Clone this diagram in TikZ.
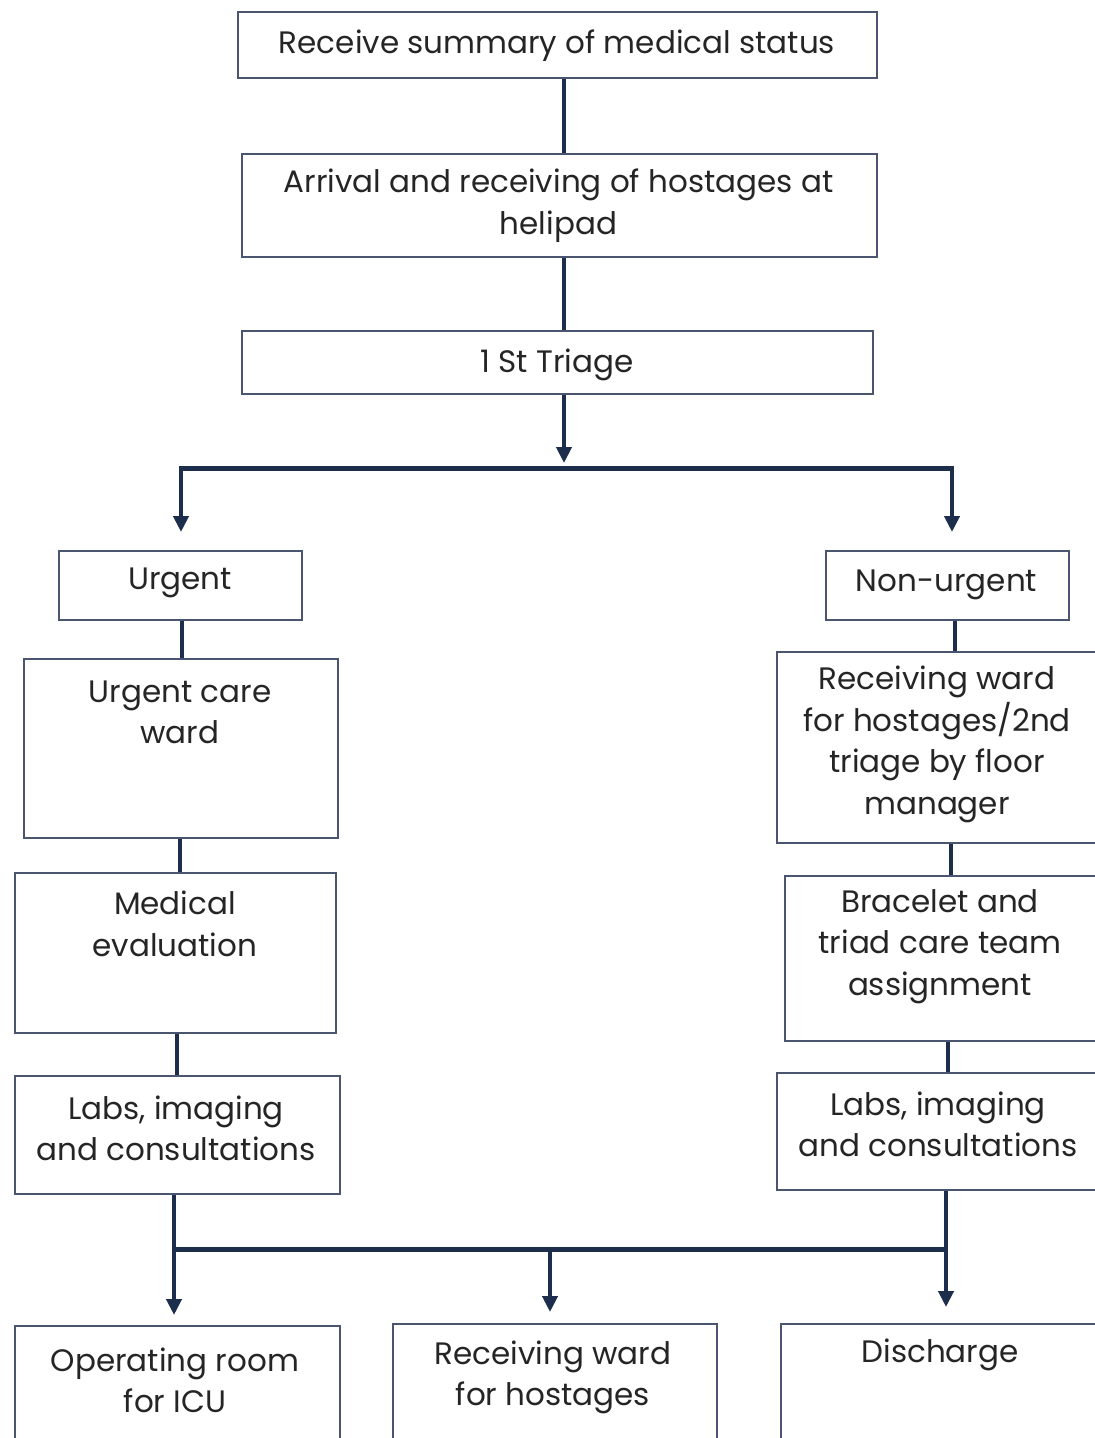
\documentclass[tikz,border=0pt]{standalone}
\usepackage{fontspec}
\setmainfont{Poppins}
\usetikzlibrary{arrows.meta}
\definecolor{linec}{HTML}{1C2E4C}
\definecolor{boxc}{HTML}{4A5670}
\definecolor{txtc}{HTML}{252525}
\tikzset{
  box/.style={draw=boxc, line width=1.8pt, fill=white, inner sep=0pt, anchor=north west},
  txt/.style={text=txtc, align=center, inner sep=0pt, yshift=-2.5pt, font=\fontsize{31}{41.5}\selectfont},
  conn/.style={draw=linec, line width=4pt},
  bar/.style={draw=linec, line width=5pt},
  arr/.style={draw=linec, line width=4pt, -{Triangle[length=16pt,width=15pt]}},
}
\begin{document}
\begin{tikzpicture}[x=1pt,y=-1pt]
\useasboundingbox (0,0) rectangle (1095,1438);
\clip (0,0) rectangle (1095,1438);
\fill[white] (0,0) rectangle (1095,1438);

% boxes
\node[box, minimum width=639pt, minimum height=66pt]  (b1) at (237,11) {};
\node[box, minimum width=635pt, minimum height=103pt] (b2) at (241,153) {};
\node[box, minimum width=631pt, minimum height=63pt]  (b3) at (241,330) {};
\node[box, minimum width=243pt, minimum height=69pt]  (urg) at (58,550) {};
\node[box, minimum width=243pt, minimum height=69pt]  (nurg) at (825,550) {};
\node[box, minimum width=314pt, minimum height=179pt] (care) at (23,658) {};
\node[box, minimum width=330pt, minimum height=191pt] (rw) at (776,651) {};
\node[box, minimum width=321pt, minimum height=160pt] (med) at (14,872) {};
\node[box, minimum width=322pt, minimum height=165pt] (brac) at (784,875) {};
\node[box, minimum width=325pt, minimum height=118pt] (labsL) at (14,1075) {};
\node[box, minimum width=330pt, minimum height=117pt] (labsR) at (776,1072) {};
\node[box, minimum width=325pt, minimum height=130pt] (opr) at (14,1325) {};
\node[box, minimum width=324pt, minimum height=130pt] (recv) at (392,1323) {};
\node[box, minimum width=326pt, minimum height=130pt] (disc) at (780,1323) {};

% texts
\node[txt] (t1) at (557,43) {Receive summary of medical status};
\node[txt] (t2) at (558.5,203) {Arrival and receiving of hostages at\\helipad};
\node[txt] (t3) at (557,362) {1 St Triage};
\node[txt] (t4) at (180,580) {Urgent};
\node[txt] (t5) at (946.5,582) {Non-urgent};
\node[txt] (t6) at (180,710) {Urgent care\\ward};
\node[txt] (t7) at (937,742) {Receiving ward\\for hostages/2nd\\triage by floor\\manager};
\node[txt] (t8) at (175,921.5) {Medical\\evaluation};
\node[txt] (t9) at (940,944) {Bracelet and\\triad care team\\assignment};
\node[txt] (t10) at (176,1126) {Labs, imaging\\and consultations};
\node[txt] (t11) at (938,1122) {Labs, imaging\\and consultations};
\node[txt] (t12) at (175,1378) {Operating room\\for ICU};
\node[txt] (t13) at (553,1375) {Receiving ward\\for hostages};
\node[txt] (t14) at (940,1352) {Discharge};

% junction coordinates
\coordinate (c1) at (564,0);
\coordinate (j1tip) at (564,463);
\coordinate (jl) at (181,468);
\coordinate (jr) at (952,468);
\coordinate (bl) at (174,1249);
\coordinate (bm) at (550,1249);
\coordinate (br) at (946,1249);

% top chain
\draw[conn] (b1.south -| c1) -- (b2.north -| c1);
\draw[conn] (b2.south -| c1) -- (b3.north -| c1);
\draw[arr] (b3.south -| c1) -- (j1tip);
\draw[bar] ([xshift=-2pt]jl) -- ([xshift=2pt]jr);
\draw[arr] (jl) -- ([yshift=18pt]urg.north -| jl);
\draw[arr] (jr) -- ([yshift=18pt]nurg.north -| jr);

% left chain
\draw[conn] ([xshift=1.5pt]urg.south) -- ([xshift=1.5pt]urg.south |- care.north);
\draw[conn] ([xshift=-1pt]care.south) -- ([xshift=-1pt]care.south |- med.north);
\draw[conn] ([xshift=1.5pt]med.south) -- ([xshift=1.5pt]med.south |- labsL.north);

% right chain
\draw[conn] ([xshift=7.5pt]nurg.south) -- ([xshift=7.5pt]nurg.south |- rw.north);
\draw[conn] (rw.south -| 951,0) -- (brac.north -| 951,0);
\draw[conn] (brac.south -| 948,0) -- (labsR.north -| 948,0);

% bottom
\draw[conn] (labsL.south -| bl) -- (bl);
\draw[conn] (labsR.south -| br) -- (br);
\draw[bar] ([xshift=-2pt]bl) -- ([xshift=2pt]br);
\draw[arr] (bl) -- ([yshift=10pt]opr.north -| bl);
\draw[arr] (bm) -- ([yshift=11pt]recv.north -| bm);
\draw[arr] (br) -- ([yshift=16pt]disc.north -| br);
\end{tikzpicture}
\end{document}
